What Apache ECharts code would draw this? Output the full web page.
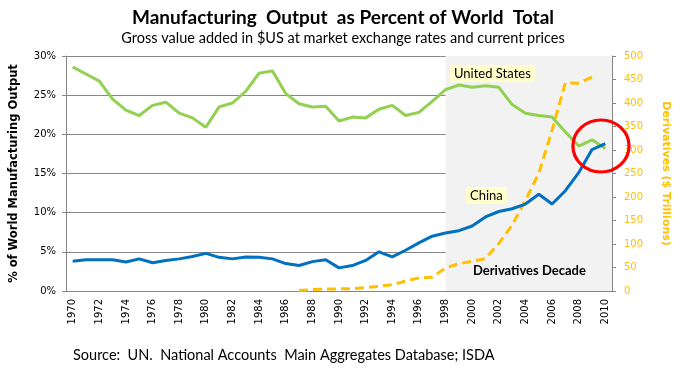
<!DOCTYPE html>
<html>
<head>
<meta charset="utf-8">
<script src="https://cdn.jsdelivr.net/npm/echarts@6/dist/echarts.min.js"></script>
<style>
html,body{margin:0;padding:0;background:#fff;}
#main{width:686px;height:375px;}
</style>
</head>
<body>
<div id="main"></div>
<script>
// 年份
var years = ['1970','1971','1972','1973','1974','1975','1976','1977','1978','1979',
             '1980','1981','1982','1983','1984','1985','1986','1987','1988','1989',
             '1990','1991','1992','1993','1994','1995','1996','1997','1998','1999',
             '2000','2001','2002','2003','2004','2005','2006','2007','2008','2009','2010'];

// 美国 % of world manufacturing output
var us_share = [28.6,27.7,26.8,24.5,23.1,22.4,23.7,24.1,22.7,22.1,
                20.9,23.5,24.0,25.5,27.8,28.1,25.2,23.9,23.5,23.6,
                21.7,22.2,22.1,23.2,23.7,22.4,22.8,24.2,25.7,26.3,
                26.0,26.2,26.0,23.8,22.7,22.4,22.2,20.3,18.5,19.3,18.2];

// 中国
var china_share = [3.8,4.0,4.0,4.0,3.7,4.1,3.6,3.9,4.1,4.4,
                   4.8,4.3,4.1,4.35,4.3,4.1,3.5,3.25,3.75,4.0,
                   2.95,3.25,3.9,5.0,4.35,5.2,6.15,7.0,7.4,7.7,
                   8.3,9.45,10.15,10.5,11.1,12.35,11.1,12.8,15.1,18.05,18.8];

// 衍生品 ($ trillions)，1987年开始
var derivatives = [null,null,null,null,null,null,null,null,null,null,
                   null,null,null,null,null,null,null,1,3,4,
                   4.5,5,7,10,13.5,21,28,29,49,58,
                   63,69,101,140,193,250,342,443,442,455,null];

// 阴影区间 Derivatives Decade
var decade_range = [1998, 2010.5];

var ticks_left = [0, 30, 5];
var ticks_right = [0, 500, 50];

var gray = '#868686';
var orange = '#FFC000';
var tickFont = 'DejaVu Sans';
var textFont = 'Lato';

var option = {
    animation: false,
    title: [{
        text: 'Manufacturing  Output  as Percent of World  Total',
        left: 'center',
        top: 3,
        textStyle: {fontFamily: textFont, fontWeight: 'bold', fontSize: 19, color: '#000'}
    }, {
        text: 'Gross value added in $US at market exchange rates and current prices',
        left: 'center',
        top: 26,
        textStyle: {fontFamily: textFont, fontWeight: 'normal', fontSize: 14.5, color: '#000'}
    }, {
        text: 'Source:  UN.  National Accounts  Main Aggregates Database; ISDA',
        left: 68,
        top: 343,
        textStyle: {fontFamily: textFont, fontWeight: 'normal', fontSize: 14.5, color: '#000'}
    }],
    grid: {left: 66, right: 74, top: 56, bottom: 84},
    xAxis: [{
        type: 'category',
        data: years,
        boundaryGap: true,
        axisLine: {lineStyle: {color: gray}},
        axisTick: {interval: 0, length: 5, lineStyle: {color: gray}},
        axisLabel: {interval: 1, rotate: 90, margin: 8, color: '#000',
                    fontFamily: tickFont, fontSize: 10}
    }, {
        type: 'value',
        min: 1969.5,
        max: 2010.5,
        show: false
    }],
    yAxis: [{
        type: 'value',
        min: ticks_left[0], max: ticks_left[1], interval: ticks_left[2],
        name: '% of World Manufacturing Output',
        nameLocation: 'middle',
        nameGap: 46,
        nameTextStyle: {fontFamily: tickFont, fontWeight: 'bold', fontSize: 11.5, color: '#000'},
        axisLine: {show: true, lineStyle: {color: gray}},
        axisTick: {show: true, length: 4, lineStyle: {color: gray}},
        axisLabel: {formatter: '{value}%', margin: 10, color: '#000', fontFamily: tickFont, fontSize: 10},
        splitLine: {lineStyle: {color: gray, width: 1}}
    }, {
        type: 'value',
        min: ticks_right[0], max: ticks_right[1], interval: ticks_right[2],
        position: 'right',
        name: 'Derivatives ($ Trillions)',
        nameLocation: 'middle',
        nameRotate: -90,
        nameGap: 48,
        nameTextStyle: {fontFamily: tickFont, fontWeight: 'bold', fontSize: 11, color: orange},
        axisLine: {show: true, lineStyle: {color: gray}},
        axisTick: {show: true, length: 4, lineStyle: {color: gray}},
        axisLabel: {margin: 12, color: orange, fontFamily: tickFont, fontSize: 10},
        splitLine: {show: false}
    }],
    series: [{
        name: 'decade',
        type: 'line',
        xAxisIndex: 1,
        yAxisIndex: 0,
        data: [],
        silent: true,
        markArea: {
            silent: true,
            itemStyle: {color: '#F2F2F2'},
            data: [[{xAxis: decade_range[0], yAxis: ticks_left[0]},
                    {xAxis: decade_range[1], yAxis: ticks_left[1]}]]
        },
        z: 0
    }, {
        name: 'United States',
        type: 'line',
        data: us_share,
        showSymbol: false,
        lineStyle: {color: '#92D050', width: 3},
        z: 3
    }, {
        name: 'China',
        type: 'line',
        data: china_share,
        showSymbol: false,
        lineStyle: {color: '#0070C0', width: 3},
        z: 4
    }, {
        name: 'Derivatives',
        type: 'line',
        yAxisIndex: 1,
        data: derivatives,
        showSymbol: false,
        lineStyle: {color: orange, width: 3, type: [9, 5]},
        z: 2
    }],
    graphic: [{
        type: 'text',
        left: 450, top: 65,
        style: {text: 'United States', font: '13px Lato', fill: '#000',
                backgroundColor: '#FFFFCC', padding: [2, 4, 2, 4]},
        z: 10
    }, {
        type: 'text',
        left: 466, top: 187,
        style: {text: 'China', font: '13px Lato', fill: '#000',
                backgroundColor: '#FFFFCC', padding: [2, 4, 2, 4]},
        z: 10
    }, {
        type: 'text',
        left: 473, top: 264,
        style: {text: 'Derivatives Decade', font: 'bold 13px Lato', fill: '#000'},
        z: 10
    }, {
        type: 'circle',
        shape: {cx: 601, cy: 146, r: 26},
        scaleX: 1.08,
        originX: 601, originY: 146,
        style: {fill: 'none', stroke: '#FF0000', lineWidth: 3},
        z: 20
    }]
};

var chart = echarts.init(document.getElementById('main'));
chart.setOption(option);
</script>
</body>
</html>
